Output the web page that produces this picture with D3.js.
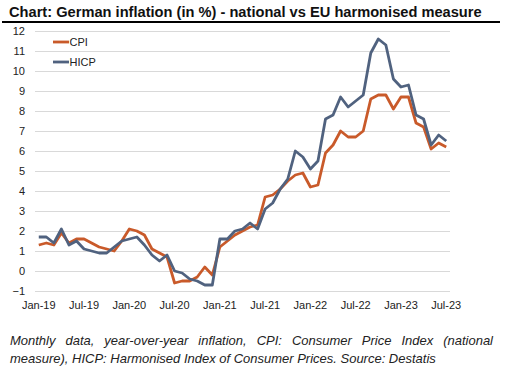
<!DOCTYPE html>
<html>
<head>
<meta charset="utf-8">
<script src="https://cdn.jsdelivr.net/npm/d3@7"></script>
<style>
  html, body { margin: 0; padding: 0; background: #fff; }
  svg { display: block; }
  .tick text { font-family: "Liberation Sans", Arial, sans-serif; font-size: 11px; fill: #222; }
</style>
</head>
<body>
<svg id="chart" width="507" height="377"></svg>
<script>
// ---- data ----
const startMonth = new Date(2019, 0, 1);
const cpi = [
  1.3, 1.4, 1.3, 1.9, 1.4, 1.6, 1.6, 1.4, 1.2, 1.1, 1.0, 1.5,
  2.1, 2.0, 1.8, 1.1, 0.9, 0.7, -0.6, -0.5, -0.5, -0.3, 0.2, -0.2,
  1.2, 1.5, 1.8, 2.0, 2.2, 2.3, 3.7, 3.8, 4.1, 4.5, 4.8, 4.9,
  4.2, 4.3, 5.9, 6.3, 7.0, 6.7, 6.7, 7.0, 8.6, 8.8, 8.8, 8.1,
  8.7, 8.7, 7.4, 7.2, 6.1, 6.4, 6.2
];
const hicp = [
  1.7, 1.7, 1.4, 2.1, 1.3, 1.5, 1.1, 1.0, 0.9, 0.9, 1.2, 1.5,
  1.6, 1.7, 1.3, 0.8, 0.5, 0.8, 0.0, -0.1, -0.4, -0.5, -0.7, -0.7,
  1.6, 1.6, 2.0, 2.1, 2.4, 2.1, 3.1, 3.4, 4.1, 4.6, 6.0, 5.7,
  5.1, 5.5, 7.6, 7.8, 8.7, 8.2, 8.5, 8.8, 10.9, 11.6, 11.3, 9.6,
  9.2, 9.3, 7.8, 7.6, 6.3, 6.8, 6.5
];
const xTickLabels = ["Jan-19","Jul-19","Jan-20","Jul-20","Jan-21","Jul-21","Jan-22","Jul-22","Jan-23","Jul-23"];
const yTicks = [-1,0,1,2,3,4,5,6,7,8,9,10,11,12];
const seriesNames = ["CPI", "HICP"];
const seriesColors = ["#C95A2A", "#50627F"];
const titleText = "Chart: German inflation (in %) - national vs EU harmonised measure";
const captionLines = [
  "Monthly data, year-over-year inflation, CPI: Consumer Price Index (national",
  "measure), HICP: Harmonised Index of Consumer Prices. Source: Destatis"
];

// ---- layout ----
const svg = d3.select("#chart");
const plot = { left: 35, right: 450, top: 31, bottom: 291 };
const months = d3.range(cpi.length).map(i => d3.timeMonth.offset(startMonth, i));
const x = d3.scaleBand().domain(d3.range(months.length)).range([plot.left, plot.right]).padding(0);
const xc = i => x(i) + x.bandwidth() / 2;
const y = d3.scaleLinear().domain([-1, 12]).range([plot.bottom, plot.top]);
const FONT = "Liberation Sans, Arial, sans-serif";

// fit a text node's font size so it spans a target width
function fitWidth(sel, target) {
  const fs = +sel.attr("font-size");
  const w = sel.node().getComputedTextLength();
  sel.attr("font-size", fs * target / w);
}

// title
const title = svg.append("text")
  .attr("x", 9).attr("y", 17)
  .attr("font-family", FONT)
  .attr("font-weight", "bold").attr("font-size", 15)
  .attr("fill", "#111")
  .text(titleText);
fitWidth(title, 473);
svg.append("line")
  .attr("x1", 2).attr("x2", 500).attr("y1", 22).attr("y2", 22)
  .attr("stroke", "#000").attr("stroke-width", 2);

// y axis + grid
const gy = svg.append("g").attr("transform", `translate(${plot.left},0)`)
  .call(d3.axisLeft(y).tickValues(yTicks).tickSize(-(plot.right - plot.left)).tickPadding(10).tickFormat(d3.format("d")));
gy.select(".domain").remove();
gy.selectAll(".tick line").attr("stroke", "#d9d9d9").attr("stroke-width", 1);

// x axis
const tickIdx = d3.range(0, months.length, 6);
const gx = svg.append("g").attr("transform", `translate(0,${plot.bottom})`)
  .call(d3.axisBottom(x).tickValues(tickIdx).tickSize(0).tickPadding(10.5)
    .tickFormat((d, i) => xTickLabels[i]));
gx.select(".domain").remove();

// lines
const line = d3.line().x((d, i) => xc(i)).y(d => y(d));
[cpi, hicp].forEach((s, k) => {
  svg.append("path").datum(s)
    .attr("fill", "none")
    .attr("stroke", seriesColors[k])
    .attr("stroke-width", 2.8)
    .attr("stroke-linejoin", "round")
    .attr("d", line);
});

// legend
const lg = svg.append("g");
seriesNames.forEach((n, k) => {
  const ly = 42 + k * 20;
  lg.append("line").attr("x1", 53).attr("x2", 69).attr("y1", ly).attr("y2", ly)
    .attr("stroke", seriesColors[k]).attr("stroke-width", 2.8);
  lg.append("text").attr("x", 69.5).attr("y", ly + 4)
    .attr("font-family", FONT).attr("font-size", 11)
    .attr("fill", "#222").text(n);
});

// caption: size from last line's width, first line justified
const capX0 = 10, capX1 = 493;
const last = svg.append("text").attr("x", capX0).attr("y", 363)
  .attr("font-family", FONT).attr("font-size", 12.5)
  .attr("font-style", "italic").attr("fill", "#222").text(captionLines[1]);
fitWidth(last, 426);
const capSize = +last.attr("font-size");
{
  const words = captionLines[0].split(" ");
  const nodes = words.map(w => svg.append("text")
    .attr("y", 345).attr("font-family", FONT).attr("font-size", capSize)
    .attr("font-style", "italic").attr("fill", "#222").text(w));
  const widths = nodes.map(n => n.node().getComputedTextLength());
  const gap = (capX1 - capX0 - d3.sum(widths)) / (words.length - 1);
  let cx = capX0;
  nodes.forEach((n, i) => { n.attr("x", cx); cx += widths[i] + gap; });
}
</script>
</body>
</html>
